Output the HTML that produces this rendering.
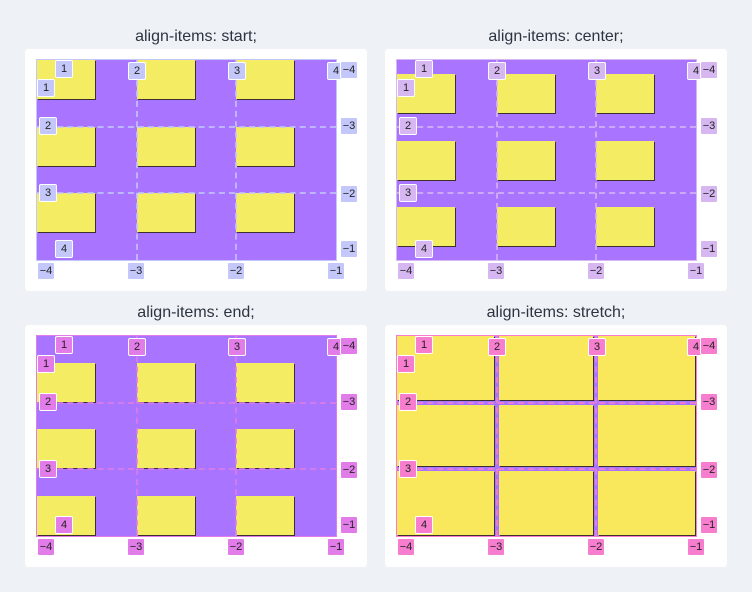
<!DOCTYPE html>
<html><head><meta charset="utf-8"><style>
body{margin:0;width:752px;height:592px;background:#eef1f5;font-family:"Liberation Sans",sans-serif;position:relative;overflow:hidden}
.title{position:absolute;width:342px;text-align:center;font-size:16px;color:#2d3440}
.card{position:absolute;width:342px;height:242px;background:#fff;border-radius:3px}
.grid{position:absolute;width:299px;height:200px;background:#a974ff}
.item{position:absolute;background:#f4ec62;box-shadow:1px 1px 0 #3a3030}
.hl,.vl{position:absolute;opacity:0.8}
.lab{position:absolute;width:16px;height:16px;font-size:11px;line-height:16px;text-align:center;color:#222;border-radius:2px;border:1px solid #fff}
</style></head><body>
<div id="root"></div>
<script>
const titles=["align-items: start;","align-items: center;","align-items: end;","align-items: stretch;"];
const modes=["start","center","end","stretch"];
const labColors=["#c4c7f9","#d6b7f2","#e17ce9","#f77ece"];
const origins=[[25,49],[385,49],[25,325],[385,325]];
function mk(cls,x,y,w,h,parent,name){const d=document.createElement('div');d.className=cls;d.style.left=x+'px';d.style.top=y+'px';if(w!=null)d.style.width=w+'px';if(h!=null)d.style.height=h+'px';


parent.appendChild(d);return d;}
for(let p=0;p<4;p++){
 const [ox,oy]=origins[p];
 const t=mk('title',ox,oy-21,null,null,document.body,'panel-title');t.textContent=titles[p];
 const card=mk('card',ox,oy,null,null,document.body,'panel-card');
 const gx=12,gy=11,cw=99.7,rh=66.7;
 const g=mk('grid',gx,gy,null,null,card,'grid-container');
 const lc=labColors[p];
 for(let r=0;r<3;r++)for(let c=0;c<3;c++){
  let x=c*cw,y,w=58,h=39;
  if(modes[p]=="start")y=r*rh;
  else if(modes[p]=="center")y=r*rh+(rh-h)/2;
  else if(modes[p]=="end")y=r*rh+rh-h-1;
  else{x=c*cw+(c?2:0);y=r*rh+(r?2:0);w=cw-(c?2:0)-(c<2?2:0)-1;h=rh-(r?2:0)-(r<2?2:0)-1;}
  const it=mk('item',x,y,w,h,g,'grid-item');
  if(modes[p]=="stretch")it.style.background='#fae85c';
 }
 for(let i=1;i<3;i++){
  const h=mk('hl',0,i*rh-1,299,0,g,'grid-row-line');h.style.borderTop='2px dashed '+lc;
  const v=mk('vl',i*cw-1,0,0,200,g,'grid-column-line');v.style.borderLeft='2px dashed '+lc;
 }
 g.style.outline='1px solid '+lc;
 const L=(txt,x,y)=>{const l=mk('lab',gx+x,gy+y,null,null,card,'line-label');l.textContent=txt;l.style.background=lc;};
 L('1',18,0);L('1',0,19);
 L('2',91,2);L('3',191,2);L('4',290,2);L('\u22124',303,1);
 L('2',2,57);L('3',2,124);L('\u22123',303,57);L('\u22122',303,125);L('\u22121',303,180);
 L('4',18,180);
 L('\u22124',0,202);L('\u22123',90,202);L('\u22122',190,202);L('\u22121',290,202);
}
</script>
</body></html>
